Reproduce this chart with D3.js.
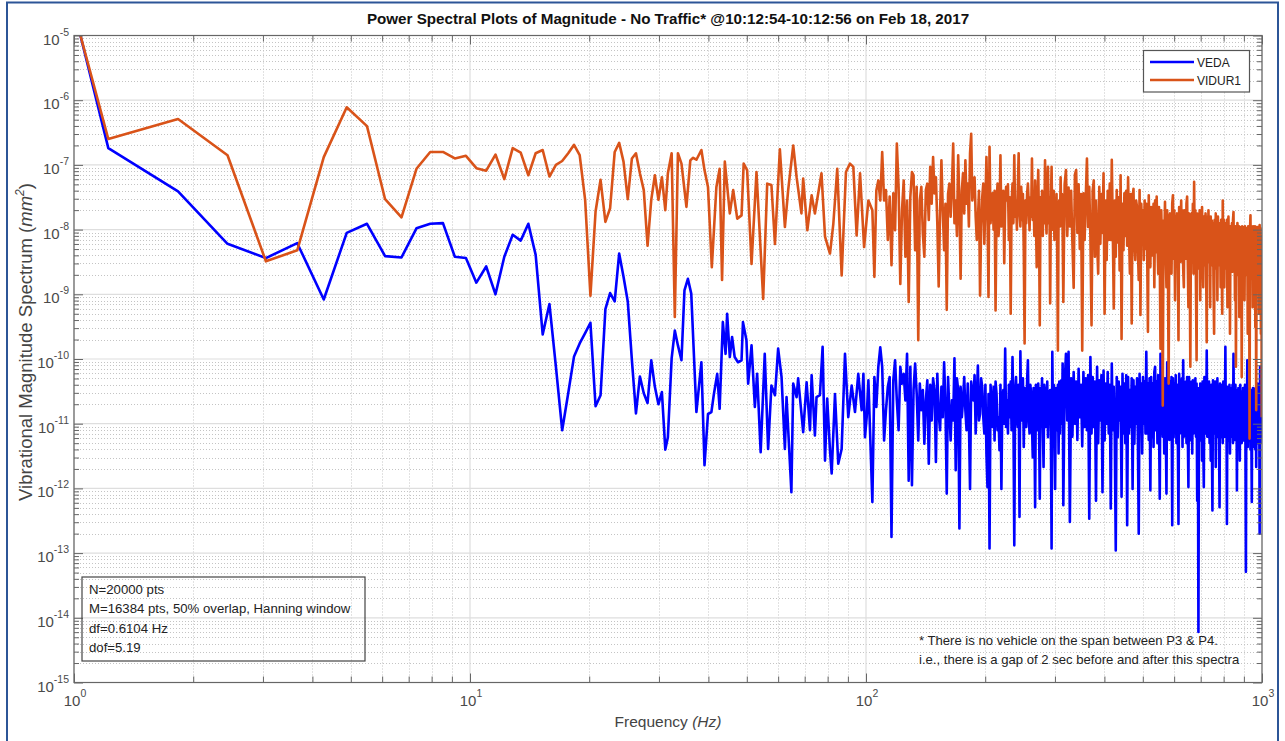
<!DOCTYPE html>
<html><head><meta charset="utf-8">
<script src="https://cdn.jsdelivr.net/npm/d3@7"></script>
<style>body{margin:0;background:#fff}svg{display:block;font-family:"Liberation Sans",Arial,Helvetica,sans-serif}</style>
</head><body><svg id="c" width="1285" height="741"></svg>
<script>
// ---------------- data (PSD values stored as log10 exponents) ----------------
const df = 0.6104; // Hz, bin spacing of the spectra
const seriesNames = ["VEDA", "VIDUR1"];
const seriesColors = ["#0000ff", "#d95319"];
const xTickExps = [0, 1, 2, 3];
const yTickExps = [-15, -14, -13, -12, -11, -10, -9, -8, -7, -6, -5];
const infoLines = ["N=20000 pts", "M=16384 pts, 50% overlap, Hanning window", "df=0.6104 Hz", "dof=5.19"];
const noteLines = ["* There is no vehicle on the span between P3 & P4.", "i.e., there is a gap of 2 sec before and after this spectra"];

// bins k = 1..51 (f = k*df)
const vedaBins = [0.70, -6.74, -7.41, -8.22, -8.44, -8.21, -9.08, -8.05, -7.91, -8.41, -8.43, -7.98, -7.91, -7.90, -8.42, -8.44, -8.82, -8.57, -9.00, -8.42, -8.08, -8.17, -7.91, -8.39, -9.62, -9.15, -10.12, -11.10, -10.53, -9.96, -9.76, -9.60, -9.44, -10.73, -10.56, -9.23, -8.98, -9.11, -8.37, -8.73, -9.11, -10.02, -10.84, -10.27, -10.53, -10.68, -10.02, -10.43, -10.70, -10.51, -11.40];
const vidurBins = [0.25, -6.60, -6.29, -6.85, -8.49, -8.32, -6.88, -6.11, -6.40, -7.53, -7.81, -7.06, -6.80, -6.80, -6.90, -6.86, -7.05, -7.09, -6.84, -7.22, -6.74, -6.81, -7.16, -6.82, -6.77, -7.18, -7.00, -6.94, -6.82, -6.69, -6.85, -7.54, -9.02, -7.72, -7.23, -7.88, -7.67, -6.80, -6.66, -6.95, -7.53, -6.90, -6.82, -7.13, -7.39, -8.25, -7.54, -7.16, -7.54, -7.19, -7.70];

// 31 Hz .. 102 Hz  [frequency Hz, log10 PSD]
const vedaMid = [[31.6,-11.21],[32.3,-9.99],[32.9,-9.56],[33.5,-9.79],[34.2,-10.02],[34.8,-8.94],[35.5,-8.76],[36.2,-8.99],[37.3,-10.82],[38.4,-10.05],[39.1,-11.64],[39.9,-10.85],[40.7,-10.82],[41.3,-10.54],[42.1,-10.23],[42.7,-10.77],[43.5,-9.43],[44.2,-9.92],[44.6,-9.30],[45.3,-9.97],[45.9,-9.66],[46.6,-9.97],[47.5,-10.05],[48.5,-10.02],[48.9,-9.43],[49.9,-9.71],[50.4,-10.38],[51.4,-9.79],[52.4,-10.74],[53.1,-10.23],[54.2,-11.44],[55.5,-9.92],[56.6,-11.39],[57.7,-10.41],[58.9,-10.56],[60.0,-9.84],[61.2,-10.28],[62.4,-11.39],[63.0,-10.59],[64.8,-12.06],[65.5,-10.38],[66.8,-10.59],[67.4,-10.30],[69.4,-11.13],[70.8,-10.36],[72.2,-11.10],[72.9,-10.25],[74.3,-11.18],[75.0,-10.59],[76.5,-10.56],[77.7,-9.81],[78.8,-11.57],[79.8,-10.61],[81.1,-11.41],[81.9,-11.77],[83.5,-10.54],[85.1,-11.62],[86.8,-11.39],[88.5,-9.92],[90.2,-10.90],[92.0,-10.41],[93.8,-10.82],[95.6,-10.23],[97.5,-10.79],[98.5,-10.23],[99.4,-11.21],[100.4,-10.90],[101.4,-10.33]];
const vidurMid = [[31.6,-7.13],[32.3,-6.82],[32.9,-9.35],[33.5,-6.82],[34.2,-6.98],[35.2,-7.65],[36.0,-6.93],[36.6,-6.89],[37.3,-6.92],[38.4,-6.77],[39.1,-7.08],[39.9,-7.34],[40.8,-8.58],[41.9,-7.34],[42.7,-7.06],[43.3,-8.78],[44.0,-6.95],[45.3,-7.75],[46.2,-7.39],[47.3,-7.83],[48.5,-7.78],[49.1,-6.98],[50.1,-7.08],[51.4,-8.53],[52.9,-7.11],[55.0,-9.07],[56.3,-7.29],[57.7,-7.31],[58.9,-8.22],[60.6,-6.76],[62.4,-7.96],[63.6,-7.39],[65.5,-6.70],[66.8,-7.19],[68.7,-7.75],[69.4,-7.21],[71.1,-8.01],[72.9,-7.47],[74.3,-7.75],[77.2,-7.13],[78.8,-8.11],[81.1,-8.37],[82.7,-7.91],[84.6,-7.06],[86.8,-8.71],[89.0,-7.11],[91.1,-6.98],[92.9,-7.03],[94.7,-8.09],[96.6,-7.13],[98.9,-8.27],[101.4,-7.55]];

// 104 Hz .. 315 Hz: every 2nd bin, k = 170, 172, ... 516 (f = k*df)
const mfStartBin = 170, mfBinStep = 2;
const vedaMF = [
-12.21,-10.28,-10.74,-10.12,-9.82,-10.12,-11.26,-10.79,-10.43,-10.28,
-12.75,-10.33,-10.02,-10.64,-11.10,-10.12,-10.38,-10.23,-10.64,-9.92,
-11.88,-10.12,-11.95,-10.48,-10.07,-10.54,-11.26,-10.38,-10.79,-10.48,
-11.31,-10.64,-10.33,-11.62,-10.40,-10.95,-10.30,-10.48,-11.59,-10.23,
-10.85,-11.10,-10.43,-10.90,-10.05,-10.70,-12.08,-10.28,-10.80,-11.26,
-10.64,-10.95,-9.99,-11.72,-10.30,-10.48,-12.62,-10.43,-10.90,-10.64,
-10.28,-10.80,-11.10,-10.38,-10.95,-12.01,-10.35,-10.54,-10.64,-10.25,
-11.15,-10.60,-10.10,-10.95,-10.85,-10.30,-10.43,-10.90,-11.15,-10.40,
-11.46,-11.98,-10.54,-12.93,-10.40,-10.74,-11.05,-10.43,-11.26,-10.35,
-10.54,-11.10,-10.90,-11.41,-10.40,-12.01,-10.60,-10.48,-11.00,-9.84,
-11.05,-10.64,-11.15,-10.40,-10.90,-10.35,-11.10,-9.97,-10.80,-12.88,
-10.50,-10.28,-10.90,-11.05,-10.40,-12.44,-9.88,-10.95,-10.64,-10.30,
-11.36,-10.45,-10.48,-11.05,-10.35,-10.02,-10.90,-11.15,-10.40,-10.54,
-11.00,-11.52,-10.45,-10.85,-12.29,-10.40,-10.64,-11.10,-10.38,-10.95,
-12.16,-10.45,-10.74,-10.30,-11.00,-11.67,-10.40,-10.54,-11.05,-10.95,
-10.35,-11.21,-10.50,-10.90,-10.48,-11.10,-12.93,-9.89,-11.00,-10.40,
-11.20,-12.01,-10.45,-10.64,-11.10,-10.40,-11.46,-10.35,-11.15,-10.45,
-10.33,-11.00,-10.07,-12.26];
const vidurMF = [
-7.70,-8.73,-7.39,-7.24,-7.55,-6.80,-7.55,-7.39,-8.16,-7.49,
-8.55,-7.44,-8.01,-6.67,-7.34,-8.84,-7.70,-7.24,-8.42,-7.55,
-9.12,-7.50,-7.11,-7.16,-8.32,-7.34,-9.71,-7.55,-7.34,-8.06,
-8.42,-7.39,-7.29,-7.85,-7.03,-7.60,-6.88,-7.44,-7.19,-7.90,
-8.88,-7.75,-6.93,-7.70,-8.32,-7.60,-9.24,-7.45,-7.29,-7.80,
-7.35,-6.67,-7.90,-7.55,-8.10,-6.85,-7.60,-8.76,-7.40,-7.13,
-7.75,-6.93,-7.60,-7.29,-7.95,-6.82,-6.52,-7.55,-7.30,-7.19,
-7.80,-8.16,-7.86,-7.40,-9.02,-7.96,-7.50,-7.29,-8.22,-7.60,
-6.88,-7.70,-9.04,-6.72,-7.90,-7.60,-7.44,-8.00,-7.40,-9.25,
-7.60,-7.29,-8.10,-7.86,-6.85,-7.95,-7.70,-7.40,-8.52,-7.60,
-7.34,-7.55,-7.30,-8.16,-7.50,-9.30,-7.60,-7.29,-7.90,-6.85,
-7.80,-7.55,-8.00,-7.40,-6.82,-7.70,-7.95,-7.34,-7.85,-7.45,
-8.30,-9.76,-7.55,-7.90,-7.45,-7.29,-7.60,-8.01,-7.50,-7.80,
-6.90,-7.85,-7.55,-8.10,-7.24,-7.80,-8.58,-7.60,-7.08,-7.95,
-9.48,-7.50,-7.96,-7.40,-8.10,-7.44,-7.90,-6.93,-7.70,-8.06,
-7.45,-7.03,-7.90,-7.50,-9.14,-7.60,-7.03,-8.00,-7.80,-7.40,
-8.16,-7.60,-7.85,-7.45,-8.30,-9.87,-7.70,-7.55,-7.95,-7.19,
-7.80,-7.45,-8.06,-9.12];

// 317 Hz .. 999 Hz: every 4th bin, k = 520, 524, ... 1636 (f = k*df)
const hfStartBin = 520, hfBinStep = 4;
const vedaHF = [
-10.40,-9.92,-10.95,-9.89,-12.52,-10.30,-11.20,-10.20,-11.00,-10.35,
-11.25,-10.15,-10.90,-10.40,-11.35,-10.20,-11.05,-10.30,-11.10,-10.25,
-12.47,-9.97,-11.15,-10.28,-11.05,-10.35,-12.19,-10.12,-11.30,-10.33,
-10.95,-10.25,-12.06,-10.18,-11.26,-10.38,-11.00,-10.20,-11.15,-10.40,
-12.31,-10.07,-11.10,-10.43,-11.20,-12.96,-10.28,-11.21,-10.35,-10.95,
-10.43,-12.13,-10.23,-11.15,-10.38,-11.30,-10.25,-12.57,-10.28,-11.15,
-10.48,-11.05,-10.30,-12.01,-10.33,-11.31,-10.43,-11.00,-10.30,-11.20,
-12.70,-10.23,-11.10,-10.38,-11.46,-10.28,-11.00,-10.35,-11.15,-9.89,
-11.15,-10.38,-11.25,-10.30,-12.03,-10.28,-11.21,-10.38,-11.36,-10.20,
-10.12,-11.10,-10.35,-11.30,-10.25,-10.95,-12.16,-9.92,-11.15,-10.33,
-11.20,-10.40,-11.46,-10.30,-11.05,-12.08,-10.05,-11.15,-10.33,-11.25,
-10.35,-11.10,-10.28,-12.57,-10.30,-11.21,-10.38,-11.05,-10.25,-11.30,
-10.40,-11.10,-12.55,-10.23,-11.15,-10.38,-11.00,-10.30,-11.36,-10.02,
-11.20,-10.43,-11.05,-10.35,-11.30,-10.28,-11.10,-11.98,-10.28,-11.26,
-10.43,-11.10,-10.35,-11.46,-10.33,-11.15,-10.40,-11.05,-10.30,-11.20,
-10.38,-12.19,-10.45,-14.22,-10.48,-11.26,-10.38,-11.10,-10.40,-11.57,
-10.35,-11.20,-11.98,-10.28,-11.10,-10.40,-11.15,-9.87,-11.20,-10.43,
-11.15,-10.35,-11.30,-10.43,-11.57,-10.40,-11.20,-12.34,-10.33,-11.15,
-10.48,-11.10,-10.35,-11.67,-10.40,-11.20,-10.30,-11.10,-10.45,-11.25,
-12.29,-10.38,-11.21,-10.40,-11.05,-10.43,-11.30,-10.35,-11.15,-10.40,
-11.20,-9.81,-11.10,-10.45,-12.55,-10.43,-11.26,-10.54,-11.15,-10.40,
-11.46,-10.45,-11.20,-10.50,-11.10,-10.40,-11.30,-9.92,-11.15,-10.45,
-11.25,-10.40,-11.15,-10.50,-12.03,-10.48,-11.36,-10.45,-11.10,-10.54,
-11.57,-10.40,-11.20,-10.50,-11.30,-10.64,-11.15,-10.45,-11.26,-10.50,
-11.20,-10.40,-11.30,-13.29,-10.45,-11.20,-10.02,-11.36,-10.50,-11.15,
-10.54,-11.25,-10.45,-11.40,-10.50,-11.20,-12.21,-10.48,-11.30,-10.45,
-11.36,-10.50,-11.20,-10.59,-11.40,-10.45,-11.67,-10.50,-11.25,-10.38,
-11.30,-10.45,-11.20,-10.50,-12.70,-10.12,-11.30,-10.45,-11.20,-11.15];
const vidurHF = [
-7.30,-7.08,-8.10,-7.35,-7.95,-7.40,-8.20,-8.90,-7.15,-7.08,
-8.05,-7.30,-8.30,-7.45,-9.87,-7.44,-8.16,-7.50,-6.90,-7.96,
-7.34,-8.10,-9.48,-7.40,-7.24,-8.42,-7.55,-8.20,-8.68,-7.34,
-8.22,-7.45,-8.05,-7.13,-9.30,-7.55,-8.47,-7.40,-8.16,-7.29,
-8.16,-6.92,-8.00,-9.22,-7.55,-8.42,-7.39,-8.20,-7.50,-8.63,
-7.16,-9.69,-7.60,-8.32,-7.44,-8.10,-7.40,-8.25,-7.19,-8.05,
-8.68,-7.45,-9.45,-7.50,-7.37,-8.20,-8.47,-7.55,-7.65,-8.30,
-8.78,-7.39,-9.32,-7.60,-8.10,-7.70,-8.47,-7.55,-8.30,-7.60,
-8.25,-9.58,-7.47,-8.20,-8.58,-7.65,-7.70,-8.40,-7.60,-8.89,
-7.55,-8.35,-7.49,-8.20,-8.68,-7.65,-8.40,-9.84,-7.70,-8.30,
-10.72,-7.86,-8.25,-7.57,-8.40,-8.89,-7.70,-8.50,-10.38,-7.80,
-7.75,-8.30,-8.68,-7.60,-7.47,-8.45,-7.70,-9.09,-7.80,-8.40,
-7.75,-8.35,-9.71,-7.65,-7.70,-8.50,-7.55,-8.30,-7.70,-8.60,
-8.89,-7.70,-7.80,-8.45,-7.60,-7.49,-8.50,-9.20,-7.75,-8.55,
-10.12,-7.80,-7.75,-8.50,-7.60,-8.68,-7.26,-8.40,-7.70,-8.89,
-10.02,-7.75,-8.50,-7.80,-8.60,-7.70,-9.09,-7.85,-8.45,-7.65,
-8.50,-8.89,-7.80,-8.55,-7.96,-7.75,-8.60,-9.74,-7.80,-8.50,
-7.70,-8.45,-7.85,-9.20,-7.80,-8.55,-7.86,-8.40,-7.90,-8.89,
-9.61,-7.85,-8.50,-7.75,-8.60,-7.90,-9.09,-7.80,-8.55,-7.96,
-8.45,-7.90,-8.89,-7.85,-8.60,-9.30,-7.55,-8.50,-7.85,-8.89,
-7.90,-8.55,-7.96,-8.60,-7.85,-9.20,-8.00,-7.80,-8.70,-7.95,
-9.61,-7.95,-8.60,-8.06,-7.90,-8.65,-7.85,-7.73,-8.55,-8.00,
-9.09,-7.95,-10.12,-8.00,-8.70,-7.90,-8.01,-8.60,-7.95,-9.35,
-8.00,-7.96,-8.70,-8.05,-10.28,-7.95,-7.96,-8.65,-8.00,-8.75,
-9.09,-7.95,-8.06,-8.70,-7.98,-8.60,-8.05,-9.61,-7.95,-8.70,
-8.10,-11.23,-8.00,-7.78,-8.65,-7.95,-8.75,-8.00,-9.20,-7.95,
-8.70,-8.06,-8.60,-7.95,-9.51,-8.00,-10.79,-7.96,-8.65,-8.00,
-7.96,-8.70,-8.05,-9.30,-7.93,-8.60,-7.98,-9.61,-8.10,-10.90];

// ---------------- chart ----------------
const plot = {left: 74, right: 1262, top: 35.5, bottom: 682.5};
const axisColor = "#666666", tickText = "#4a4a4a";
const svg = d3.select("#c");
const x = d3.scaleLog().domain([1, 1000]).range([plot.left, plot.right]);
const y = d3.scaleLog().domain([1e-15, 1e-5]).range([plot.bottom, plot.top]);

// figure frame
svg.append("rect").attr("x", 7).attr("y", 2.5).attr("width", 1271).attr("height", 770)
  .attr("fill", "none").attr("stroke", "#2c5597").attr("stroke-width", 2);

const xMajor = xTickExps.map(e => Math.pow(10, e));
const xMinor = [];
xTickExps.slice(0, -1).forEach(e => { for (let m = 2; m <= 9; m++) xMinor.push(m * Math.pow(10, e)); });
const yMajor = yTickExps.map(e => Math.pow(10, e));
const yMinor = [];
yTickExps.slice(0, -1).forEach(e => { for (let m = 2; m <= 9; m++) yMinor.push(m * Math.pow(10, e)); });

// grid
const grid = svg.append("g");
grid.selectAll(".gxm").data(xMinor).join("line")
  .attr("x1", d => Math.round(x(d)) + 0.5).attr("x2", d => Math.round(x(d)) + 0.5)
  .attr("y1", plot.top).attr("y2", plot.bottom)
  .attr("stroke", "#c4c4c4").attr("stroke-width", 1).attr("stroke-dasharray", "1,2");
grid.selectAll(".gym").data(yMinor).join("line")
  .attr("y1", d => Math.round(y(d)) + 0.5).attr("y2", d => Math.round(y(d)) + 0.5)
  .attr("x1", plot.left).attr("x2", plot.right)
  .attr("stroke", "#c4c4c4").attr("stroke-width", 1).attr("stroke-dasharray", "1,2");
grid.selectAll(".gxM").data(xMajor).join("line")
  .attr("x1", d => x(d)).attr("x2", d => x(d)).attr("y1", plot.top).attr("y2", plot.bottom)
  .attr("stroke", "#dedede").attr("stroke-width", 1.2);
grid.selectAll(".gyM").data(yMajor).join("line")
  .attr("y1", d => y(d)).attr("y2", d => y(d)).attr("x1", plot.left).attr("x2", plot.right)
  .attr("stroke", "#dedede").attr("stroke-width", 1.2);

// data lines
svg.append("clipPath").attr("id", "clip").append("rect")
  .attr("x", plot.left).attr("y", plot.top).attr("width", plot.right - plot.left).attr("height", plot.bottom - plot.top);
function buildSeries(bins, mid, mf, hf) {
  return bins.map((e, i) => [(i + 1) * df, Math.pow(10, e)])
    .concat(mid.map(d => [d[0], Math.pow(10, d[1])]))
    .concat(mf.map((e, i) => [(mfStartBin + i * mfBinStep) * df, Math.pow(10, e)]))
    .concat(hf.map((e, i) => [(hfStartBin + i * hfBinStep) * df, Math.pow(10, e)]));
}
const series = [buildSeries(vedaBins, vedaMid, vedaMF, vedaHF), buildSeries(vidurBins, vidurMid, vidurMF, vidurHF)];
const line = d3.line().x(d => x(d[0])).y(d => y(d[1]));
const gData = svg.append("g").attr("clip-path", "url(#clip)");
series.forEach((s, i) => {
  gData.append("path").attr("d", line(s)).attr("fill", "none")
    .attr("stroke", seriesColors[i]).attr("stroke-width", 2.6).attr("stroke-linejoin", "round");
});

// axes box and ticks
svg.append("rect").attr("x", plot.left).attr("y", plot.top).attr("width", plot.right - plot.left)
  .attr("height", plot.bottom - plot.top).attr("fill", "none").attr("stroke", axisColor).attr("stroke-width", 1.2);
function ticks(gen, tr, vals, size) {
  svg.append("g").attr("transform", tr)
    .call(gen.tickValues(vals).tickSize(size).tickFormat(""))
    .call(g => g.select(".domain").remove())
    .call(g => g.selectAll("line").attr("stroke", axisColor));
}
ticks(d3.axisBottom(x), `translate(0,${plot.bottom})`, xMajor, -9);
ticks(d3.axisBottom(x), `translate(0,${plot.bottom})`, xMinor, -6);
ticks(d3.axisTop(x), `translate(0,${plot.top})`, xMajor, -9);
ticks(d3.axisTop(x), `translate(0,${plot.top})`, xMinor, -6);
ticks(d3.axisLeft(y), `translate(${plot.left},0)`, yMajor, -9);
ticks(d3.axisLeft(y), `translate(${plot.left},0)`, yMinor, -5);
ticks(d3.axisRight(y), `translate(${plot.right},0)`, yMajor, -9);
ticks(d3.axisRight(y), `translate(${plot.right},0)`, yMinor, -5);

// tick labels
function powLabel(px, py, exp, anchor) {
  const t = svg.append("text").attr("x", px).attr("y", py).attr("text-anchor", anchor)
    .attr("font-size", 15).attr("fill", tickText);
  t.append("tspan").text("10");
  t.append("tspan").attr("dy", -9).attr("font-size", 10.5).text(exp);
}
yTickExps.forEach(e => powLabel(plot.left - 5, y(Math.pow(10, e)) + 9, e, "end"));
xTickExps.forEach(e => powLabel(x(Math.pow(10, e)) + 1, plot.bottom + 23, e, "middle"));

// title and axis labels
svg.append("text").attr("x", 668).attr("y", 24).attr("text-anchor", "middle")
  .attr("font-size", 15.2).attr("font-weight", "bold").attr("fill", "#111")
  .text("Power Spectral Plots of Magnitude - No Traffic* @10:12:54-10:12:56 on Feb 18, 2017");
const xl = svg.append("text").attr("x", 668).attr("y", 727).attr("text-anchor", "middle")
  .attr("font-size", 15.5).attr("fill", "#444");
xl.append("tspan").text("Frequency ");
xl.append("tspan").attr("font-style", "italic").text("(Hz)");
const yl = svg.append("text").attr("transform", "translate(32,342) rotate(-90)").attr("text-anchor", "middle")
  .attr("font-size", 18.5).attr("fill", "#444");
yl.append("tspan").text("Vibrational Magnitude Spectrum (");
yl.append("tspan").attr("font-style", "italic").text("mm");
yl.append("tspan").attr("dy", -8).attr("font-size", 12).attr("font-style", "italic").text("2");
yl.append("tspan").attr("dy", 8).text(")");

// legend
const lg = svg.append("g");
lg.append("rect").attr("x", 1143.5).attr("y", 50.5).attr("width", 106).attr("height", 41.5)
  .attr("fill", "#fff").attr("stroke", "#555").attr("stroke-width", 1.2);
seriesNames.forEach((n, i) => {
  const ly = 62 + i * 18;
  lg.append("line").attr("x1", 1150).attr("x2", 1194).attr("y1", ly).attr("y2", ly)
    .attr("stroke", seriesColors[i]).attr("stroke-width", 2.5);
  lg.append("text").attr("x", 1197).attr("y", ly + 4.5).attr("font-size", 12).attr("fill", "#222").text(n);
});

// info box
svg.append("rect").attr("x", 82).attr("y", 577).attr("width", 283).attr("height", 84)
  .attr("fill", "none").attr("stroke", "#444").attr("stroke-width", 1.2);
infoLines.forEach((t, i) => {
  svg.append("text").attr("x", 89).attr("y", 594 + i * 19.3).attr("font-size", 13.2).attr("fill", "#222").text(t);
});

// note
noteLines.forEach((t, i) => {
  svg.append("text").attr("x", 919).attr("y", 645 + i * 19).attr("font-size", 13.1).attr("fill", "#222").text(t);
});
</script></body></html>
